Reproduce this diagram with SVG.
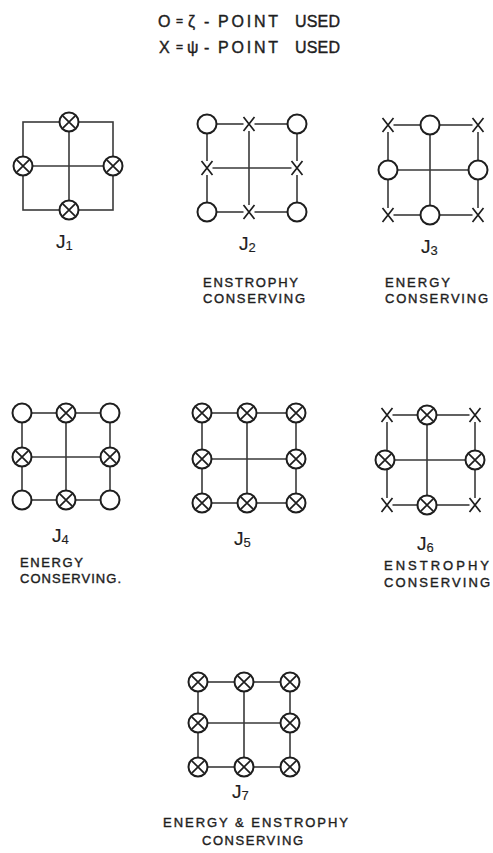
<svg xmlns="http://www.w3.org/2000/svg" xmlns:xlink="http://www.w3.org/1999/xlink" width="493" height="853" viewBox="0 0 493 853">
<style>
.ln{fill:none;stroke:#3a3a3a;stroke-width:1.6}
.nd{fill:#fff;stroke:#1e1e1e;stroke-width:2}
.xx{fill:none;stroke:#1e1e1e;stroke-width:1.7}
.t{font-family:"Liberation Sans",Arial,sans-serif;fill:#1e1e1e;stroke:#1e1e1e;stroke-width:0.4}
.lg{font-size:16px}
.cap{font-size:13px}
.j{font-size:19px;stroke-width:0.15}
.sub{font-size:13px}
</style>
<defs>
<g id="oc"><circle class="nd" r="9.5"/></g>
<g id="ox"><circle class="nd" r="9.5"/><path class="xx" d="M-6.2,-6.2L6.2,6.2M6.2,-6.2L-6.2,6.2"/></g>
<g id="xm"><rect x="-5.5" y="-7" width="11" height="14" fill="#fff"/><path class="xx" d="M-5.5,-7L5.5,7M5.5,-7L-5.5,7"/></g>
</defs>
<rect width="493" height="853" fill="#fff"/>
<g id="legend">
<text class="t lg" x="158" y="27">O</text>
<text class="t" x="176" y="25" font-size="12">=</text>
<text class="t lg" x="188" y="27" font-family="'DejaVu Sans',sans-serif">ζ</text>
<text class="t lg" x="204" y="27">-</text>
<text class="t lg" x="218" y="27" textLength="60" lengthAdjust="spacing">POINT</text>
<text class="t lg" x="295" y="27" textLength="45" lengthAdjust="spacing">USED</text>
<text class="t lg" x="159" y="53">X</text>
<text class="t" x="176" y="51" font-size="12">=</text>
<text class="t lg" x="187" y="53" font-family="'DejaVu Sans',sans-serif">ψ</text>
<text class="t lg" x="204" y="53">-</text>
<text class="t lg" x="218" y="53" textLength="60" lengthAdjust="spacing">POINT</text>
<text class="t lg" x="295" y="53" textLength="45" lengthAdjust="spacing">USED</text>
</g>
<g id="connectors">
<rect class="ln" x="23" y="122" width="90" height="88"/><path class="ln" d="M69,122V210M23,166H113"/>
<rect class="ln" x="207" y="124" width="90" height="88"/><path class="ln" d="M249,124V212M207,168H297"/>
<rect class="ln" x="388" y="125" width="90" height="90"/><path class="ln" d="M430,125V215M388,170H478"/>
<rect class="ln" x="22" y="413" width="88" height="87"/><path class="ln" d="M66,413V500M22,457H110"/>
<rect class="ln" x="202" y="413" width="94" height="90"/><path class="ln" d="M247,413V503M202,459H296"/>
<rect class="ln" x="387" y="415" width="88" height="90"/><path class="ln" d="M427,415V505M387,460H475"/>
<rect class="ln" x="198" y="682" width="92" height="85"/><path class="ln" d="M244,682V767M198,723H290"/>
</g>
<g id="J1">
<use xlink:href="#ox" x="69" y="122"/><use xlink:href="#ox" x="23" y="166"/><use xlink:href="#ox" x="113" y="166"/><use xlink:href="#ox" x="69" y="210"/>
<text class="t j" x="56" y="248">J<tspan class="sub" dy="2">1</tspan></text>
</g>
<g id="J2">
<use xlink:href="#oc" x="207" y="124"/><use xlink:href="#xm" x="249" y="124"/><use xlink:href="#oc" x="297" y="124"/>
<use xlink:href="#xm" x="207" y="168"/><use xlink:href="#xm" x="297" y="168"/>
<use xlink:href="#oc" x="207" y="212"/><use xlink:href="#xm" x="249" y="212"/><use xlink:href="#oc" x="297" y="212"/>
<text class="t j" x="239" y="250">J<tspan class="sub" dy="2">2</tspan></text>
<text class="t cap" x="203" y="287" textLength="95" lengthAdjust="spacing">ENSTROPHY</text>
<text class="t cap" x="203" y="303" textLength="102" lengthAdjust="spacing">CONSERVING</text>
</g>
<g id="J3">
<use xlink:href="#xm" x="388" y="125"/><use xlink:href="#oc" x="430" y="125"/><use xlink:href="#xm" x="478" y="125"/>
<use xlink:href="#oc" x="388" y="170"/><use xlink:href="#oc" x="478" y="170"/>
<use xlink:href="#xm" x="388" y="215"/><use xlink:href="#oc" x="430" y="215"/><use xlink:href="#xm" x="478" y="215"/>
<text class="t j" x="421" y="253">J<tspan class="sub" dy="2">3</tspan></text>
<text class="t cap" x="385" y="287" textLength="65" lengthAdjust="spacing">ENERGY</text>
<text class="t cap" x="385" y="303" textLength="103" lengthAdjust="spacing">CONSERVING</text>
</g>
<g id="J4">
<use xlink:href="#oc" x="22" y="413"/><use xlink:href="#ox" x="66" y="413"/><use xlink:href="#oc" x="110" y="413"/>
<use xlink:href="#ox" x="22" y="457"/><use xlink:href="#ox" x="110" y="457"/>
<use xlink:href="#oc" x="22" y="500"/><use xlink:href="#ox" x="66" y="500"/><use xlink:href="#oc" x="110" y="500"/>
<text class="t j" x="52" y="542">J<tspan class="sub" dy="2">4</tspan></text>
<text class="t cap" x="20" y="567" textLength="63" lengthAdjust="spacing">ENERGY</text>
<text class="t cap" x="20" y="583" textLength="101" lengthAdjust="spacing">CONSERVING.</text>
</g>
<g id="J5">
<use xlink:href="#ox" x="202" y="413"/><use xlink:href="#ox" x="247" y="413"/><use xlink:href="#ox" x="296" y="413"/>
<use xlink:href="#ox" x="202" y="459"/><use xlink:href="#ox" x="296" y="459"/>
<use xlink:href="#ox" x="202" y="503"/><use xlink:href="#ox" x="247" y="503"/><use xlink:href="#ox" x="296" y="503"/>
<text class="t j" x="234" y="545">J<tspan class="sub" dy="2">5</tspan></text>
</g>
<g id="J6">
<use xlink:href="#xm" x="387" y="415"/><use xlink:href="#ox" x="427" y="415"/><use xlink:href="#xm" x="475" y="415"/>
<use xlink:href="#ox" x="385" y="460"/><use xlink:href="#ox" x="475" y="460"/>
<use xlink:href="#xm" x="387" y="505"/><use xlink:href="#ox" x="427" y="505"/><use xlink:href="#xm" x="475" y="505"/>
<text class="t j" x="417" y="550">J<tspan class="sub" dy="2">6</tspan></text>
<text class="t cap" x="384" y="570" textLength="105" lengthAdjust="spacing">ENSTROPHY</text>
<text class="t cap" x="384" y="587" textLength="106" lengthAdjust="spacing">CONSERVING</text>
</g>
<g id="J7">
<use xlink:href="#ox" x="198" y="682"/><use xlink:href="#ox" x="244" y="682"/><use xlink:href="#ox" x="290" y="682"/>
<use xlink:href="#ox" x="198" y="723"/><use xlink:href="#ox" x="290" y="723"/>
<use xlink:href="#ox" x="198" y="767"/><use xlink:href="#ox" x="244" y="767"/><use xlink:href="#ox" x="290" y="767"/>
<text class="t j" x="232" y="798">J<tspan class="sub" dy="2">7</tspan></text>
<text class="t cap" x="163" y="827" textLength="185" lengthAdjust="spacing">ENERGY &amp; ENSTROPHY</text>
<text class="t cap" x="202" y="845" textLength="101" lengthAdjust="spacing">CONSERVING</text>
</g>
</svg>
